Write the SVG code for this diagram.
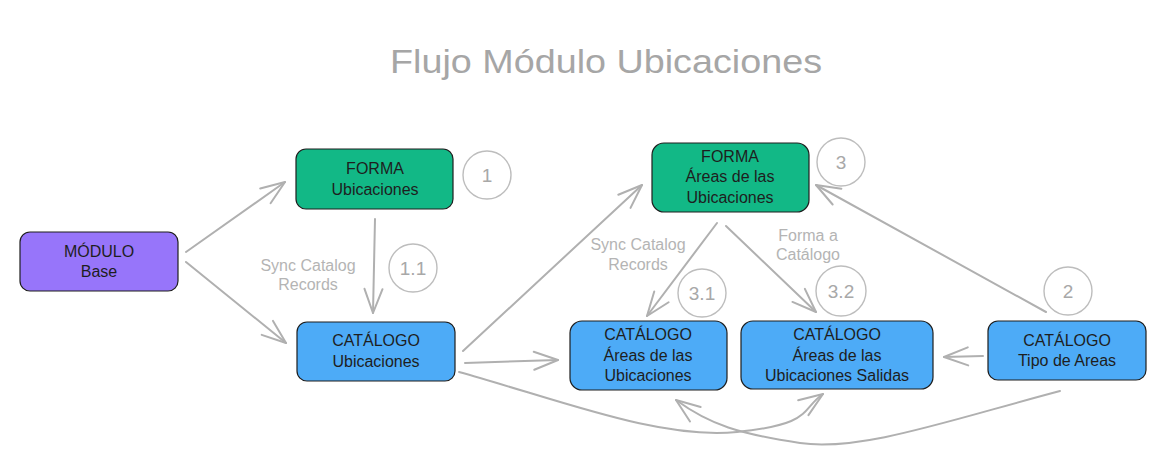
<svg xmlns="http://www.w3.org/2000/svg" width="1165" height="476" viewBox="0 0 1165 476">
<style>
.box{stroke:#1e1e1e;stroke-width:1.2}
.purple{fill:#9775fa}
.green{fill:#12b886}
.blue{fill:#4dabf7}
.t{font-family:"Liberation Sans",Arial,sans-serif;font-size:16px;fill:#1e1e1e;text-anchor:middle}
.lbl{font-family:"Liberation Sans",Arial,sans-serif;font-size:16px;fill:#b4b4b4;text-anchor:middle}
.num{font-family:"Liberation Sans",Arial,sans-serif;font-size:19px;fill:#a8a8a8;text-anchor:middle}
.circ{fill:none;stroke:#bdbdbd;stroke-width:1.4}
.c{fill:none;stroke:#b0b0b0;stroke-width:2;stroke-linecap:round;marker-end:url(#arr)}
.title{font-family:"Liberation Sans",Arial,sans-serif;font-size:34px;fill:#a6a6a6;text-anchor:middle}
</style>
<defs>
<marker id="arr" markerUnits="userSpaceOnUse" viewBox="-28 -12 30 24" refX="0" refY="0" markerWidth="30" markerHeight="24" orient="auto" overflow="visible">
<path d="M-24,-9 L0,0 L-24,9" fill="none" stroke="#b0b0b0" stroke-width="2" stroke-linecap="round" stroke-linejoin="round"/>
</marker>
</defs>
<rect width="1165" height="476" fill="#ffffff"/>
<text class="title" x="606" y="73" textLength="432" lengthAdjust="spacingAndGlyphs">Flujo Módulo Ubicaciones</text>

<g id="connectors">
<path class="c" d="M186,252 L285,182"/>
<path class="c" d="M186,262 L286,343"/>
<path class="c" d="M375,219 L373,313"/>
<path class="c" d="M463,351 L642,185"/>
<path class="c" d="M465,363 L558,360"/>
<path class="c" d="M717,223 L647,316"/>
<path class="c" d="M726,226 L816,312"/>
<path class="c" d="M983,356 L944,357"/>
<path class="c" d="M1046,312 L816,185"/>
<path class="c" d="M459,372 C560,400 660,440 737,432 S800,410 823,394"/>
<path class="c" d="M1060,391 C950,420 860,452 800,443 S710,425 676,400"/>
<text class="lbl" x="308" y="271">Sync Catalog</text>
<text class="lbl" x="308" y="290">Records</text>
<text class="lbl" x="638" y="250">Sync Catalog</text>
<text class="lbl" x="638" y="270">Records</text>
<text class="lbl" x="808" y="241">Forma a</text>
<text class="lbl" x="808" y="260">Catálogo</text>
</g>

<g id="node-modulo-base">
<rect class="box purple" x="20" y="232" width="158" height="59" rx="10"/>
<text class="t" x="99" y="257">MÓDULO</text>
<text class="t" x="99" y="277">Base</text>
</g>
<g id="node-forma-ubicaciones">
<rect class="box green" x="296" y="149" width="157" height="60" rx="10"/>
<text class="t" x="375" y="174">FORMA</text>
<text class="t" x="375" y="195">Ubicaciones</text>
</g>
<g id="node-catalogo-ubicaciones">
<rect class="box blue" x="297" y="322" width="158" height="59" rx="10"/>
<text class="t" x="376" y="346">CATÁLOGO</text>
<text class="t" x="376" y="367">Ubicaciones</text>
</g>
<g id="node-forma-areas">
<rect class="box green" x="652" y="143" width="157" height="69" rx="12"/>
<text class="t" x="730" y="162">FORMA</text>
<text class="t" x="730" y="182">Áreas de las</text>
<text class="t" x="730" y="203">Ubicaciones</text>
</g>
<g id="node-catalogo-areas">
<rect class="box blue" x="570" y="321" width="157" height="69" rx="12"/>
<text class="t" x="648" y="340">CATÁLOGO</text>
<text class="t" x="648" y="361">Áreas de las</text>
<text class="t" x="648" y="381">Ubicaciones</text>
</g>
<g id="node-catalogo-areas-salidas">
<rect class="box blue" x="741" y="321" width="192" height="68" rx="12"/>
<text class="t" x="837" y="340">CATÁLOGO</text>
<text class="t" x="837" y="361">Áreas de las</text>
<text class="t" x="837" y="381">Ubicaciones Salidas</text>
</g>
<g id="node-catalogo-tipo">
<rect class="box blue" x="988" y="321" width="158" height="59" rx="10"/>
<text class="t" x="1067" y="346">CATÁLOGO</text>
<text class="t" x="1067" y="366">Tipo de Areas</text>
</g>

<g id="step-1"><circle class="circ" cx="487" cy="175" r="24"/><text class="num" x="487" y="182">1</text></g>
<g id="step-1-1"><circle class="circ" cx="413" cy="268" r="24"/><text class="num" x="413" y="275">1.1</text></g>
<g id="step-3"><circle class="circ" cx="841" cy="162" r="24"/><text class="num" x="841" y="169">3</text></g>
<g id="step-3-1"><circle class="circ" cx="702" cy="293" r="24"/><text class="num" x="702" y="300">3.1</text></g>
<g id="step-3-2"><circle class="circ" cx="841" cy="291" r="25"/><text class="num" x="841" y="298">3.2</text></g>
<g id="step-2"><circle class="circ" cx="1068" cy="291" r="24"/><text class="num" x="1068" y="298">2</text></g>
</svg>
